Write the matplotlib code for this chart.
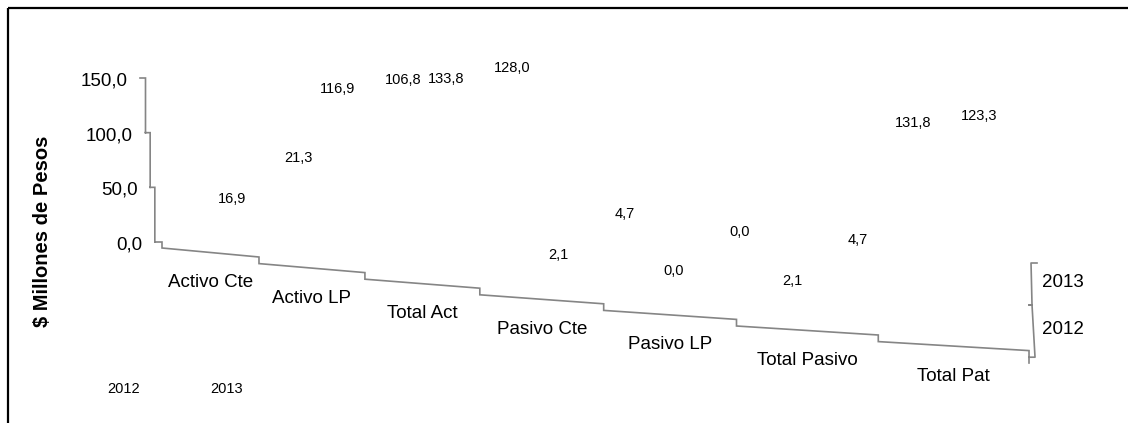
import matplotlib.pyplot as plt
from matplotlib.patches import Rectangle

plt.rcParams["font.family"] = ["Liberation Sans", "DejaVu Sans"]

CATEGORIES = [
    "Activo Cte",
    "Activo LP",
    "Total Act",
    "Pasivo Cte",
    "Pasivo LP",
    "Total Pasivo",
    "Total Pat",
]
SERIES = ["2012", "2013"]
VALUES_2012 = [16.9, 116.9, 133.8, 2.1, 0.0, 2.1, 131.8]
VALUES_2013 = [21.3, 106.8, 128.0, 4.7, 0.0, 4.7, 123.3]
VALUE_TICKS = [150, 100, 50, 0]

AXIS_COLOR = "#858585"
W, H = 1128, 423


def fmt(v):
    return f"{v:.1f}".replace(".", ",")


# the excel 3d "perspective", all in pixel space
def floor_x(u):
    return 162 + 92.5 * u + 4.48 * u**2


def floor_y(u):
    return 248 + 15.6 * u


def value_x(v):
    return 154 - v * 14 / 150


def value_y(v):
    return 242 - v * 164 / 150


def depth_y(d):
    return 357 - 52 * d + 5 * d * (d - 1)


def label_pos(i, j, v):
    x = 232 + 104 * i + 1.6 * i**2 + 66 * j
    base = 219 + 13 * i - 39 * j
    scale = (1.2 + 0.02 * i) * (1 - 0.13 * j)
    return x, base - scale * v


fig = plt.figure(figsize=(W / 100, H / 100), dpi=100)
ax = fig.add_axes([0, 0, 1, 1])
ax.set_xlim(0, W)
ax.set_ylim(H, 0)
ax.axis("off")

# outer frame (only top/left visible)
ax.add_patch(Rectangle((8, 8), W + 50, H + 50, fill=False, edgecolor="black", lw=1.6))

# value axis as stairs
xs, ys = [], []
for k, v in enumerate(VALUE_TICKS):
    xl = value_x(v)
    y = value_y(v)
    xr = xl + 5.5 if v != 0 else floor_x(0)
    xs += [xl, xr]
    ys += [y, y]
    if k + 1 < len(VALUE_TICKS):
        xs.append(xr)
        ys.append(value_y(VALUE_TICKS[k + 1]))
    else:
        xs.append(xr)
        ys.append(floor_y(0))
    ax.text(xl - 12, y + 3, fmt(v), ha="right", va="center", fontsize=13.5)

# category (floor) axis
for i in range(len(CATEGORIES)):
    y0 = floor_y(i)
    xs += [floor_x(i + 1), floor_x(i + 1)]
    ys += [y0 + 9, floor_y(i + 1)]
    xm = (floor_x(i) + floor_x(i + 1)) / 2
    ax.text(xm, y0 + 4.5 + 30, CATEGORIES[i], ha="center", va="center", fontsize=13.5)
ax.plot(xs, ys, color=AXIS_COLOR, lw=1.2, solid_joinstyle="miter")

# depth axis on the right
x7 = floor_x(len(CATEGORIES))
y7 = floor_y(len(CATEGORIES))
ax.plot([x7, x7], [y7, y7 + 6], color=AXIS_COLOR, lw=1.2)
ax.plot(
    [x7, x7 + 6, x7 + 3, x7, x7 + 3, x7 + 2, x7 + 8],
    [y7, y7, depth_y(1), depth_y(1), depth_y(1), depth_y(2), depth_y(2)],
    color=AXIS_COLOR,
    lw=1.2,
)
for j, name in enumerate(SERIES):
    ax.text(x7 + 13, depth_y(j + 0.5), name, ha="left", va="center", fontsize=13.5)

# data labels (bars themselves are not rendered in the original)
for j, values in enumerate([VALUES_2012, VALUES_2013]):
    for i, v in enumerate(values):
        x, y = label_pos(i, j, v)
        ax.text(x, y, fmt(v), ha="center", va="center", fontsize=10.5)

# legend without keys
for j, name in enumerate(SERIES):
    ax.text(124 + 103 * j, 389, name, ha="center", va="center", fontsize=10.5)

ax.text(43, 231, "$ Millones de Pesos", rotation=90, ha="center", va="center",
        fontsize=14.5, fontweight="bold")

fig.savefig("out.png", dpi=100)
